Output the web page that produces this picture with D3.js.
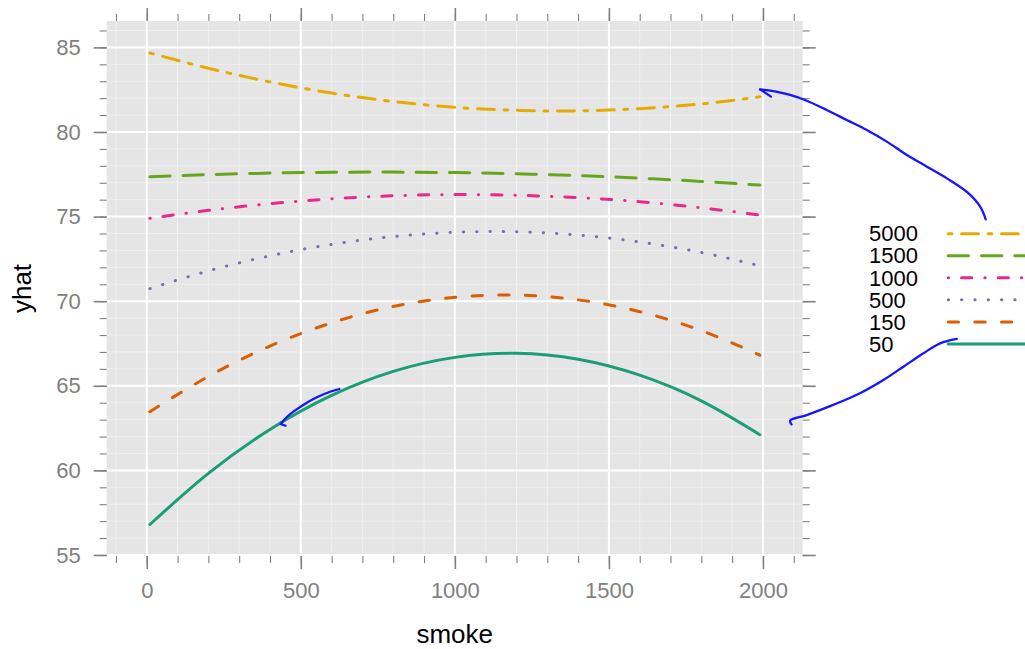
<!DOCTYPE html>
<html>
<head>
<meta charset="utf-8">
<script src="https://cdn.jsdelivr.net/npm/d3@7"></script>
<style>
  body { margin: 0; background: #fff; }
  svg text { font-family: "Liberation Sans", Arial, Helvetica, sans-serif; }
</style>
</head>
<body>
<svg id="chart" width="1025" height="649"></svg>
<script>
// Predicted yhat against smoke, one curve per group
const smoke   = [10, 200, 400, 600, 800, 1000, 1200, 1400, 1600, 1800, 1990];
const yhat50   = [56.80, 59.82, 62.42, 64.43, 65.85, 66.68, 66.92, 66.57, 65.63, 64.11, 62.11];
const yhat150  = [63.47, 65.55, 67.35, 68.72, 69.69, 70.23, 70.36, 70.08, 69.38, 68.26, 66.81];
const yhat500  = [70.74, 71.79, 72.68, 73.36, 73.82, 74.07, 74.10, 73.91, 73.50, 72.88, 72.09];
const yhat1000 = [74.90, 75.37, 75.76, 76.05, 76.23, 76.30, 76.26, 76.12, 75.88, 75.52, 75.09];
const yhat1500 = [77.36, 77.48, 77.57, 77.62, 77.63, 77.60, 77.53, 77.42, 77.27, 77.08, 76.86];
const yhat5000 = [84.67, 83.77, 82.96, 82.30, 81.80, 81.46, 81.28, 81.25, 81.38, 81.66, 82.08];

// Legend order, top to bottom
const groupNames  = ["5000", "1500", "1000", "500", "150", "50"];
const groupValues = [yhat5000, yhat1500, yhat1000, yhat500, yhat150, yhat50];
const groupColors = ["#E6AB02", "#66A61E", "#E7298A", "#7570B3", "#D95F02", "#1B9E77"];
const groupLty    = ["2262", "73", "1343", "13", "44", ""];   // twodash, longdash, dotdash, dotted, dashed, solid

const xTickLabels = [0, 500, 1000, 1500, 2000];
const yTickLabels = [55, 60, 65, 70, 75, 80, 85];
const xMinorTicks = d3.range(-100, 2101, 100);
const yMinorTicks = d3.range(55, 87, 1);
const xLim = [-130, 2129];
const yLim = [54.94, 86.56];

// Hand-drawn pointers, in data units
const noteTop    = [[1990.6, 82.52], [2033.8, 82.42], [2088, 82.19], [2142, 81.85], [2207, 81.30], [2272, 80.71],
                    [2337, 80.12], [2402, 79.43], [2467, 78.64], [2532, 77.95], [2597, 77.26], [2661, 76.47],
                    [2705, 75.59], [2723, 74.84]];
const noteTopBarb = [[1990.6, 82.52], [2026, 82.09]];
const noteBottom = [[2093, 62.72], [2088, 62.94], [2142, 63.27], [2228, 63.87], [2315, 64.56], [2391, 65.34],
                    [2456, 66.13], [2521, 66.92], [2575, 67.51], [2629, 67.77]];
const noteCurve  = [[625, 64.81], [595, 64.65], [552, 64.32], [508, 63.87], [476, 63.47], [454, 63.14], [435, 62.74]];
const noteCurveBarb = [[435, 62.74], [450.5, 62.64]];

const svg = d3.select("#chart");
const panel = { left: 106.7, right: 802.7, top: 21, bottom: 556 };

const x = d3.scaleLinear().domain(xLim).range([panel.left, panel.right]);
const y = d3.scaleLinear().domain(yLim).range([panel.bottom, panel.top]);

const lineW = 3, unit = 3.33;
function dashArray(lty) {
  if (!lty) return null;
  return lty.split("").map((c, i) => {
    const L = +c * unit;
    return i % 2 === 0 ? Math.max(L - lineW, 0.01) : L + lineW;
  }).join(",");
}

// Panel background and grid
svg.append("rect")
  .attr("x", panel.left).attr("y", panel.top)
  .attr("width", panel.right - panel.left).attr("height", panel.bottom - panel.top)
  .attr("fill", "#e5e5e5");

const grid = svg.append("g");
grid.selectAll(".vminor").data(xMinorTicks).join("line")
  .attr("x1", d => x(d)).attr("x2", d => x(d))
  .attr("y1", panel.top).attr("y2", panel.bottom)
  .attr("stroke", "#f0f0f0").attr("stroke-width", 1);
grid.selectAll(".hminor").data(yMinorTicks).join("line")
  .attr("y1", d => y(d)).attr("y2", d => y(d))
  .attr("x1", panel.left).attr("x2", panel.right)
  .attr("stroke", "#f0f0f0").attr("stroke-width", 1);
grid.selectAll(".vmajor").data(xTickLabels).join("line")
  .attr("x1", d => x(d)).attr("x2", d => x(d))
  .attr("y1", panel.top).attr("y2", panel.bottom)
  .attr("stroke", "#ffffff").attr("stroke-width", 2);
grid.selectAll(".hmajor").data(yTickLabels).join("line")
  .attr("y1", d => y(d)).attr("y2", d => y(d))
  .attr("x1", panel.left).attr("x2", panel.right)
  .attr("stroke", "#ffffff").attr("stroke-width", 2);

// Axes on all four sides
const tickColor = "#808080";
function styleAxis(g, major) {
  g.select(".domain").remove();
  g.selectAll(".tick line").attr("stroke", tickColor).attr("stroke-width", major ? 1.6 : 1.1);
  g.selectAll(".tick text").attr("fill", tickColor).attr("font-size", 22);
}
const minorLen = 7, majorLen = 13;

svg.append("g").attr("transform", `translate(0,${panel.bottom})`)
  .call(d3.axisBottom(x).tickValues(xMinorTicks).tickSize(minorLen).tickFormat(""))
  .call(g => styleAxis(g, false));
svg.append("g").attr("transform", `translate(0,${panel.bottom})`)
  .call(d3.axisBottom(x).tickValues(xTickLabels).tickSize(majorLen).tickPadding(13).tickFormat(d3.format("d")))
  .call(g => styleAxis(g, true));
svg.append("g").attr("transform", `translate(0,${panel.top})`)
  .call(d3.axisTop(x).tickValues(xMinorTicks).tickSize(minorLen).tickFormat(""))
  .call(g => styleAxis(g, false));
svg.append("g").attr("transform", `translate(0,${panel.top})`)
  .call(d3.axisTop(x).tickValues(xTickLabels).tickSize(majorLen).tickFormat(""))
  .call(g => styleAxis(g, true));

svg.append("g").attr("transform", `translate(${panel.left},0)`)
  .call(d3.axisLeft(y).tickValues(yMinorTicks).tickSize(minorLen).tickFormat(""))
  .call(g => styleAxis(g, false));
svg.append("g").attr("transform", `translate(${panel.left},0)`)
  .call(d3.axisLeft(y).tickValues(yTickLabels).tickSize(majorLen).tickPadding(13).tickFormat(d3.format("d")))
  .call(g => styleAxis(g, true));
svg.append("g").attr("transform", `translate(${panel.right},0)`)
  .call(d3.axisRight(y).tickValues(yMinorTicks).tickSize(minorLen).tickFormat(""))
  .call(g => styleAxis(g, false));
svg.append("g").attr("transform", `translate(${panel.right},0)`)
  .call(d3.axisRight(y).tickValues(yTickLabels).tickSize(majorLen).tickFormat(""))
  .call(g => styleAxis(g, true));

// Axis titles
svg.append("text")
  .attr("x", (panel.left + panel.right) / 2).attr("y", 643)
  .attr("text-anchor", "middle").attr("font-size", 26).attr("fill", "#000")
  .text("smoke");
svg.append("text")
  .attr("transform", `translate(30.7,${(panel.top + panel.bottom) / 2}) rotate(-90)`)
  .attr("text-anchor", "middle").attr("font-size", 26).attr("fill", "#000")
  .text("yhat");

// Curves
const line = d3.line().x(d => x(d[0])).y(d => y(d[1])).curve(d3.curveNatural);
const curves = svg.append("g");
groupNames.forEach((name, i) => {
  const pts = smoke.map((s, j) => [s, groupValues[i][j]]);
  curves.append("path")
    .attr("d", line(pts))
    .attr("fill", "none")
    .attr("stroke", groupColors[i])
    .attr("stroke-width", lineW)
    .attr("stroke-linecap", "round")
    .attr("stroke-linejoin", "round")
    .attr("stroke-dasharray", dashArray(groupLty[i]));
});

// Legend
const legend = svg.append("g");
const legendTop = 233.7, legendStep = 22.05;
groupNames.forEach((name, i) => {
  const ly = legendTop + i * legendStep;
  legend.append("text")
    .attr("x", 869).attr("y", ly).attr("dy", "0.35em")
    .attr("font-size", 22).attr("fill", "#000")
    .text(name);
  legend.append("line")
    .attr("x1", 948.2).attr("x2", 1060).attr("y1", ly).attr("y2", ly)
    .attr("stroke", groupColors[i])
    .attr("stroke-width", lineW)
    .attr("stroke-linecap", "round")
    .attr("stroke-dasharray", dashArray(groupLty[i]));
});

// Pen annotations
const pen = d3.line().x(d => x(d[0])).y(d => y(d[1])).curve(d3.curveCatmullRom.alpha(0.5));
const notes = svg.append("g")
  .attr("fill", "none").attr("stroke", "#1515ff").attr("stroke-width", 2.3)
  .attr("stroke-linecap", "round").attr("stroke-linejoin", "round");
[noteTop, noteTopBarb, noteBottom, noteCurve, noteCurveBarb].forEach(pts => {
  notes.append("path").attr("d", pen(pts));
});
</script>
</body>
</html>
